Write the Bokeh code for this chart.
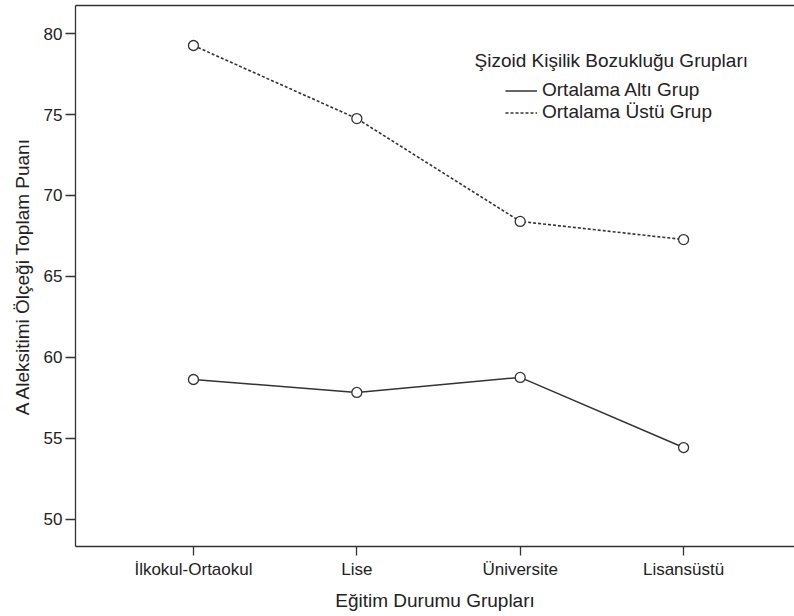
from bokeh.plotting import figure
from bokeh.models import Range1d, FixedTicker, LinearAxis, Legend, LegendItem, Label
from bokeh.embed import file_html
from bokeh.resources import INLINE

categories = ["İlkokul-Ortaokul", "Lise", "Üniversite", "Lisansüstü"]
alt_grup = [58.64, 57.84, 58.77, 54.44]
ustu_grup = [79.26, 74.75, 68.40, 67.28]
y_ticks = [50, 55, 60, 65, 70, 75, 80]
series_names = ["Ortalama Altı Grup", "Ortalama Üstü Grup"]
legend_title = "Şizoid Kişilik Bozukluğu Grupları"
x_title = "Eğitim Durumu Grupları"
y_title = "A Aleksitimi Ölçeği Toplam Puanı"

xs = list(range(len(categories)))
FONT = "Liberation Sans"
DARK = "#333333"
TXT = "#222222"

p = figure(width=794, height=616, output_backend="svg", toolbar_location=None,
           x_range=Range1d(-0.722, 3.679), y_range=Range1d(48.33, 81.73),
           min_border_top=5, min_border_right=0, min_border_left=75, min_border_bottom=70)
p.outline_line_color = None
p.xgrid.grid_line_color = None
p.ygrid.grid_line_color = None
p.background_fill_color = "white"
p.border_fill_color = "white"

for ax in (p.xaxis[0], p.yaxis[0]):
    ax.axis_line_color = DARK
    ax.axis_line_width = 1.3
    ax.major_tick_line_color = DARK
    ax.major_tick_line_width = 1.3
    ax.minor_tick_line_color = None
    ax.major_tick_in = 0
    ax.major_label_text_font = FONT
    ax.major_label_text_font_size = "17px"
    ax.major_label_text_color = TXT
    ax.axis_label_text_font = FONT
    ax.axis_label_text_font_size = "19px"
    ax.axis_label_text_font_style = "normal"
    ax.axis_label_text_color = TXT

p.xaxis.ticker = FixedTicker(ticks=xs)
p.xaxis.major_label_overrides = {i: c for i, c in zip(xs, categories)}
p.xaxis.major_tick_out = 9
p.xaxis.major_label_standoff = 4
p.xaxis.axis_label = x_title
p.xaxis.axis_label_standoff = 8

p.yaxis.ticker = FixedTicker(ticks=y_ticks)
p.yaxis.major_tick_out = 10
p.yaxis.major_label_standoff = 3
p.yaxis.axis_label = y_title
p.yaxis.axis_label_standoff = 8

top = LinearAxis(ticker=FixedTicker(ticks=[]), axis_line_color=DARK, axis_line_width=1.3,
                 major_label_text_font_size="0px", major_tick_line_color=None,
                 minor_tick_line_color=None)
p.add_layout(top, "above")

r1 = p.line(xs, alt_grup, line_color=DARK, line_width=1.5)
r2 = p.line(xs, ustu_grup, line_color=DARK, line_width=1.6, line_dash="3 2")
p.scatter(xs, alt_grup, size=10, marker="circle", fill_color="white", line_color=DARK, line_width=1.3)
p.scatter(xs, ustu_grup, size=10, marker="circle", fill_color="white", line_color=DARK, line_width=1.3)

legend = Legend(items=[LegendItem(label=series_names[0], renderers=[r1]),
                       LegendItem(label=series_names[1], renderers=[r2])],
                location=(430, 423), orientation="vertical",
                glyph_width=32, glyph_height=19, label_height=19, label_standoff=5,
                spacing=-2, padding=0, margin=0,
                border_line_color=None, background_fill_alpha=0,
                label_text_font=FONT, label_text_font_size="19px", label_text_color=TXT)
p.add_layout(legend, "center")

p.add_layout(Label(x=399, y=486, x_units="screen", y_units="screen", text=legend_title,
                   text_font=FONT, text_font_size="19px", text_color=TXT,
                   text_baseline="middle"))

open("out.html", "w").write(file_html(p, INLINE))
